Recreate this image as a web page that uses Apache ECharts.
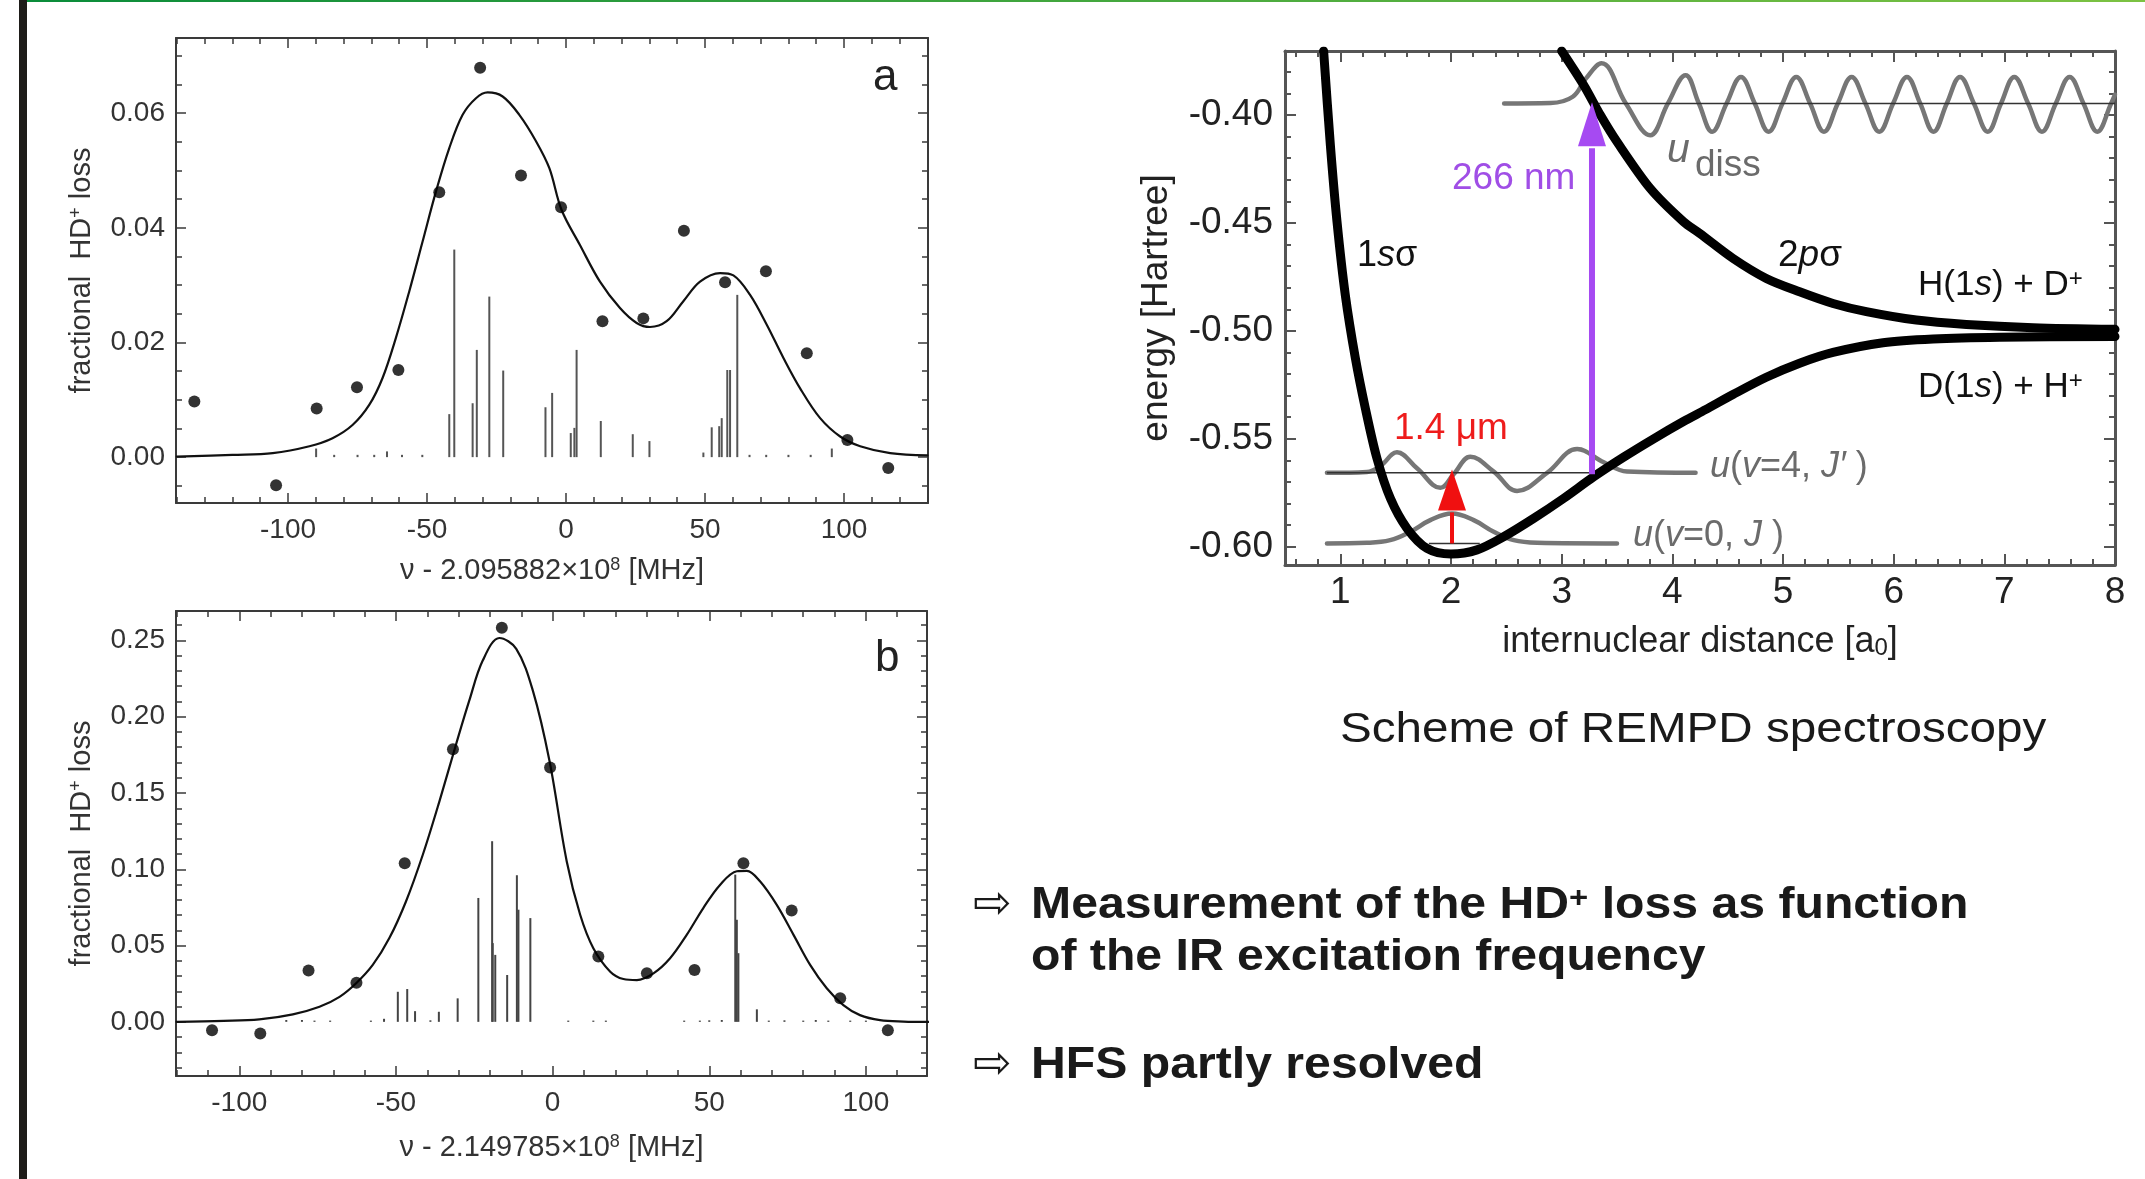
<!DOCTYPE html>
<html><head><meta charset="utf-8">
<script src="https://cdn.jsdelivr.net/npm/echarts@6/dist/echarts.min.js"></script>
<style>html,body{margin:0;padding:0;background:#fff;overflow:hidden}#c{width:2145px;height:1179px}</style>
</head><body><div id="c"></div>
<script>
// ===== Panel a : HD+ loss vs frequency (v - 2.095882e8 MHz) =====
const aPointsX = [-133.7, -104.3, -89.7, -75.2, -60.3, -45.6, -30.9, -16.2, -1.8, 13.1, 27.8, 42.4, 57.2, 71.9, 86.6, 101.2, 115.9];
const aPointsY = [0.0097, -0.0049, 0.0085, 0.0122, 0.0152, 0.0462, 0.0679, 0.0491, 0.0436, 0.0237, 0.0242, 0.0395, 0.0305, 0.0324, 0.0181, 0.0030, -0.0019];
const aFitX = [-140, -120, -105.5, -92.3, -84.0, -76.8, -70.8, -66.0, -61.2, -56.4, -51.6, -46.8, -42.0, -37.2, -32.4, -28.2, -22.8, -16.8, -10.8, -6.0, -1.6, 5.0, 12.2, 19.4, 25.4, 30.2, 36.2, 42.2, 48.2, 55.4, 60.2, 66.2, 72.2, 78.2, 84.2, 91.4, 98.6, 105.8, 116.6, 130];
const aFitY = [0.0001, 0.0004, 0.0007, 0.0019, 0.0033, 0.0056, 0.0091, 0.0138, 0.0208, 0.0289, 0.0376, 0.0463, 0.0539, 0.0597, 0.0626, 0.0636, 0.0629, 0.0597, 0.0551, 0.0504, 0.0431, 0.0370, 0.0306, 0.0260, 0.0234, 0.0227, 0.0237, 0.0272, 0.0306, 0.0321, 0.0317, 0.0283, 0.0231, 0.0173, 0.0120, 0.0068, 0.0036, 0.0019, 0.0007, 0.0003];
const aStickX = [-89.9, -83.4, -75.0, -69.0, -64.4, -59.0, -51.7, -42.0, -40.2, -33.6, -32.1, -27.6, -22.6, -7.4, -5.0, 1.7, 3.0, 3.8, 12.5, 24.0, 30.0, 49.4, 52.4, 55.1, 56.0, 58.0, 59.0, 61.6, 66.0, 72.0, 80.0, 88.0, 95.6];
const aStickY = [0.0015, 0.0004, 0.0004, 0.0004, 0.0010, 0.0004, 0.0004, 0.0075, 0.0362, 0.0094, 0.0187, 0.0280, 0.0151, 0.0087, 0.0112, 0.0042, 0.0051, 0.0187, 0.0063, 0.0040, 0.0028, 0.0008, 0.0052, 0.0054, 0.0068, 0.0152, 0.0152, 0.0283, 0.0004, 0.0004, 0.0004, 0.0004, 0.0015];
const aXTicks = [-100, -50, 0, 50, 100];
const aYTicks = [0.00, 0.02, 0.04, 0.06];

// ===== Panel b : HD+ loss vs frequency (v - 2.149785e8 MHz) =====
const bPointsX = [-108.7, -93.3, -77.9, -62.6, -47.2, -31.8, -16.2, -0.8, 14.6, 30.1, 45.3, 60.9, 76.3, 91.8, 107.0];
const bPointsY = [-0.0055, -0.0076, 0.0336, 0.0257, 0.1039, 0.1787, 0.2583, 0.1667, 0.0428, 0.0318, 0.0340, 0.1039, 0.0730, 0.0154, -0.0055];
const bFitX = [-120, -105, -93.6, -82.9, -74.4, -68.0, -62.7, -57.4, -52.1, -46.8, -41.4, -36.1, -30.8, -26.6, -22.3, -17.0, -11.6, -6.3, -1.0, 4.5, 8.8, 13.0, 18.4, 22.6, 26.9, 32.2, 37.5, 42.8, 48.1, 53.5, 58.8, 62.0, 66.2, 71.5, 76.9, 82.2, 87.5, 92.8, 98.1, 104.5, 112, 120];
const bFitY = [0.0000, 0.0006, 0.0016, 0.0049, 0.0099, 0.0164, 0.0253, 0.0373, 0.0549, 0.0789, 0.1097, 0.1447, 0.1820, 0.2105, 0.2368, 0.2516, 0.2445, 0.2171, 0.1711, 0.1053, 0.0702, 0.0483, 0.0329, 0.0281, 0.0274, 0.0318, 0.0417, 0.0570, 0.0746, 0.0899, 0.0987, 0.0990, 0.0921, 0.0768, 0.0570, 0.0373, 0.0220, 0.0110, 0.0044, 0.0011, 0.0002, 0.0000];
const bStickX = [-85, -80, -76, -71, -58, -53.8, -49.4, -46.4, -43.9, -39, -36.3, -30.3, -23.7, -19.3, -19.1, -18.3, -14.5, -11.4, -10.9, -7.1, 5, 13, 17, 42, 47, 50, 54, 58.3, 58.8, 59.3, 65.2, 69, 74, 80, 84, 88, 95, 100];
const bStickY = [0.0012, 0.0012, 0.0008, 0.0008, 0.0008, 0.0020, 0.0197, 0.0215, 0.0070, 0.0010, 0.0066, 0.0154, 0.0812, 0.1184, 0.0516, 0.0439, 0.0307, 0.0961, 0.0735, 0.0680, 0.0008, 0.0008, 0.0008, 0.0008, 0.0008, 0.0010, 0.0012, 0.0965, 0.0669, 0.0450, 0.0082, 0.0008, 0.0010, 0.0008, 0.0012, 0.0008, 0.0008, 0.0008];
const bXTicks = [-100, -50, 0, 50, 100];
const bYTicks = [0.00, 0.05, 0.10, 0.15, 0.20, 0.25];

// ===== Potential curves: energy [Hartree] vs internuclear distance [a0] =====
const s1X = [0.849, 0.91, 0.97, 1.045, 1.136, 1.226, 1.331, 1.452, 1.602, 1.783, 2.0, 2.235, 2.476, 2.747, 3.018, 3.289, 3.56, 3.831, 4.1, 4.3, 4.548, 4.849, 5.15, 5.452, 5.904, 6.356, 6.958, 8.0];
const s1Y = [-0.3703, -0.4139, -0.4494, -0.4834, -0.5127, -0.5359, -0.5591, -0.5776, -0.5915, -0.6008, -0.6034, -0.6015, -0.5954, -0.5869, -0.5776, -0.5676, -0.5585, -0.5500, -0.5420, -0.5365, -0.5295, -0.5215, -0.5150, -0.5100, -0.5055, -0.5038, -0.5030, -0.5026];
const s2X = [3.0, 3.199, 3.35, 3.5, 3.8, 4.1, 4.247, 4.548, 4.849, 5.15, 5.452, 5.753, 6.205, 6.657, 7.26, 8.0];
const s2Y = [-0.3703, -0.3861, -0.4000, -0.4124, -0.4340, -0.4494, -0.4548, -0.4664, -0.4757, -0.4819, -0.4873, -0.4911, -0.4950, -0.4970, -0.4985, -0.4993];
const w0X = [0.879, 1.24, 1.45, 1.632, 1.813, 2.009, 2.205, 2.386, 2.567, 2.778, 3.50];
const w0Y = [-0.5985, -0.5982, -0.5970, -0.5931, -0.5877, -0.5846, -0.5877, -0.5931, -0.5970, -0.5982, -0.5985];
const w4X = [0.879, 1.24, 1.36, 1.512, 1.693, 1.904, 2.024, 2.175, 2.386, 2.597, 2.868, 3.14, 3.38, 3.59, 4.21];
const w4Y = [-0.5658, -0.5654, -0.5627, -0.5563, -0.5637, -0.5727, -0.5664, -0.5583, -0.5652, -0.5742, -0.5658, -0.5548, -0.5609, -0.5652, -0.5658];
const wdX = [2.48, 2.90, 3.10, 3.22, 3.36, 3.58, 3.80, 3.96, 4.12, 4.24, 4.36, 4.49, 4.62, 4.745, 4.87, 4.995, 5.12, 5.245, 5.37, 5.495, 5.62, 5.745, 5.87, 5.995, 6.12, 6.24, 6.36, 6.48, 6.60, 6.725, 6.85, 6.97, 7.09, 7.215, 7.34, 7.465, 7.59, 7.715, 7.84, 7.965, 8.0];
const wdY = [-0.3946, -0.3944, -0.3915, -0.3830, -0.3760, -0.3946, -0.4093, -0.3946, -0.3815, -0.3946, -0.4077, -0.3946, -0.3823, -0.3946, -0.4077, -0.3946, -0.3823, -0.3946, -0.4077, -0.3946, -0.3823, -0.3946, -0.4077, -0.3946, -0.3823, -0.3946, -0.4077, -0.3946, -0.3823, -0.3946, -0.4077, -0.3946, -0.3823, -0.3946, -0.4077, -0.3946, -0.3823, -0.3946, -0.4077, -0.3946, -0.3905];
const levelX0 = [1.80, 0.879, 3.31];
const levelX1 = [2.26, 3.29, 8.0];
const levelE = [-0.5985, -0.5658, -0.3946];
const arrowX = [2.009, 3.274];
const arrowFrom = [-0.5985, -0.5665];
const arrowTo = [-0.5642, -0.3941];
const pXTicks = [1, 2, 3, 4, 5, 6, 7, 8];
const pYTicks = [-0.60, -0.55, -0.50, -0.45, -0.40];

// ===== helpers =====
const FF = '"Liberation Sans", Arial, Helvetica, sans-serif';
const zip = (xs, ys) => xs.map((x, i) => [x, ys[i]]);
function minorTicks(min, max, step, majors) {
  const out = [];
  const s = Math.ceil(min / step - 1e-9), e = Math.floor(max / step + 1e-9);
  for (let k = s; k <= e; k++) {
    const v = +(k * step).toFixed(6);
    if (!majors.some(m => Math.abs(m - v) < 1e-9)) out.push(v);
  }
  return out;
}
function makeAxes(dim, gi, o) {
  const main = dim === 'x' ? 'bottom' : 'left';
  const mir = dim === 'x' ? 'top' : 'right';
  const base = { type: 'value', gridIndex: gi, min: o.min, max: o.max, splitLine: { show: false }, silent: true, axisPointer: { show: false } };
  const line = { show: true, onZero: false, lineStyle: { color: o.frame, width: o.frameW } };
  const noLine = { show: false, onZero: false };
  const tMaj = { show: true, inside: true, length: o.majLen, customValues: o.major, lineStyle: { color: o.frame, width: o.tickW } };
  const tMin = { show: true, inside: true, length: o.minLen, customValues: o.minor, lineStyle: { color: o.frame, width: o.tickW } };
  return [
    Object.assign({}, base, {
      position: main, axisLine: line, axisTick: tMaj,
      axisLabel: { show: true, customValues: o.major, formatter: o.fmt, fontSize: o.fs, fontFamily: FF, color: o.color, margin: o.margin },
      name: o.name, nameLocation: 'middle', nameGap: o.nameGap, nameRotate: dim === 'y' ? 90 : 0, nameTextStyle: o.nameStyle
    }),
    Object.assign({}, base, { position: main, axisLine: noLine, axisTick: tMin, axisLabel: { show: false } }),
    Object.assign({}, base, { position: mir, axisLine: line, axisTick: tMaj, axisLabel: { show: false } }),
    Object.assign({}, base, { position: mir, axisLine: noLine, axisTick: tMin, axisLabel: { show: false } })
  ];
}
const plotCol = '#333';
const richPlot = (fs) => ({
  t: { fontSize: fs, fontFamily: FF, color: plotCol },
  s: { fontSize: Math.round(fs * 0.62), fontFamily: FF, color: plotCol, verticalAlign: 'top' }
});
const fmt2 = v => v.toFixed(2);
const fmt0 = v => String(Math.round(v));

const aRange = { xmin: -140.3, xmax: 130.2, ymin: -0.0080, ymax: 0.0731 };
const bRange = { xmin: -120.2, xmax: 119.5, ymin: -0.0355, ymax: 0.2693 };
const pRange = { xmin: 0.5, xmax: 8.0, ymin: -0.6085, ymax: -0.3703 };

const plotFrame = { frame: '#3a3a3a', frameW: 2, tickW: 1.5, majLen: 10, minLen: 6 };
const potFrame = { frame: '#555', frameW: 3, tickW: 2, majLen: 11, minLen: 6 };

const xAxes = [
  ...makeAxes('x', 0, Object.assign({}, plotFrame, { min: aRange.xmin, max: aRange.xmax, major: aXTicks, minor: minorTicks(aRange.xmin, aRange.xmax, 10, aXTicks), fmt: fmt0, fs: 28, color: plotCol, margin: 13,
    name: '{t|ν - 2.095882×10}{s|8}{t| [MHz]}', nameGap: 53, nameStyle: { fontFamily: FF, fontSize: 29, color: plotCol, rich: richPlot(29) } })),
  ...makeAxes('x', 1, Object.assign({}, plotFrame, { min: bRange.xmin, max: bRange.xmax, major: bXTicks, minor: minorTicks(bRange.xmin, bRange.xmax, 10, bXTicks), fmt: fmt0, fs: 28, color: plotCol, margin: 13,
    name: '{t|ν - 2.149785×10}{s|8}{t| [MHz]}', nameGap: 57, nameStyle: { fontFamily: FF, fontSize: 29, color: plotCol, rich: richPlot(29) } })),
  ...makeAxes('x', 2, Object.assign({}, potFrame, { min: pRange.xmin, max: pRange.xmax, major: pXTicks, minor: minorTicks(pRange.xmin, pRange.xmax, 0.2, pXTicks), fmt: fmt0, fs: 37, color: '#222', margin: 9,
    name: '{t|internuclear distance [a}{b|0}{t|]}', nameGap: 59, nameStyle: { fontFamily: FF, fontSize: 36, color: '#222',
      rich: { t: { fontSize: 36, fontFamily: FF, color: '#222' }, b: { fontSize: 24, fontFamily: FF, color: '#222', verticalAlign: 'bottom' } } } }))
];
const yAxes = [
  ...makeAxes('y', 0, Object.assign({}, plotFrame, { min: aRange.ymin, max: aRange.ymax, major: aYTicks, minor: minorTicks(aRange.ymin, aRange.ymax, 0.005, aYTicks), fmt: fmt2, fs: 28, color: plotCol, margin: 11,
    name: '{t|fractional  HD}{s|+}{t| loss}', nameGap: 80, nameStyle: { fontFamily: FF, fontSize: 29, color: plotCol, rich: richPlot(29) } })),
  ...makeAxes('y', 1, Object.assign({}, plotFrame, { min: bRange.ymin, max: bRange.ymax, major: bYTicks, minor: minorTicks(bRange.ymin, bRange.ymax, 0.01, bYTicks), fmt: fmt2, fs: 28, color: plotCol, margin: 11,
    name: '{t|fractional  HD}{s|+}{t| loss}', nameGap: 80, nameStyle: { fontFamily: FF, fontSize: 29, color: plotCol, rich: richPlot(29) } })),
  ...makeAxes('y', 2, Object.assign({}, potFrame, { min: pRange.ymin, max: pRange.ymax, major: pYTicks, minor: minorTicks(pRange.ymin, pRange.ymax, 0.01, pYTicks), fmt: fmt2, fs: 37, color: '#222', margin: 12,
    name: 'energy [Hartree]', nameGap: 110, nameStyle: { fontFamily: FF, fontSize: 37, color: '#222' } }))
];

const grey = '#767676';
const arrowStyles = [
  { color: '#f01010', shaft: 4, headW: 28, headLen: 41 },
  { color: '#a64af2', shaft: 6, headW: 28, headLen: 44 }
];
const curve = (xi, data, color, width, z, smooth) => ({ type: 'line', xAxisIndex: xi, yAxisIndex: xi, data: data, smooth: smooth, showSymbol: false, lineStyle: { color: color, width: width, cap: 'round', join: 'round' }, z: z, silent: true });

const series = [
  // panel a
  { type: 'bar', xAxisIndex: 0, yAxisIndex: 0, data: zip(aStickX, aStickY), barWidth: 2, itemStyle: { color: '#555' }, z: 2, silent: true },
  curve(0, zip(aFitX, aFitY), '#111', 2.2, 3, 0.35),
  { type: 'scatter', xAxisIndex: 0, yAxisIndex: 0, data: zip(aPointsX, aPointsY), symbolSize: 12, itemStyle: { color: '#000' }, z: 4, silent: true },
  // panel b
  { type: 'bar', xAxisIndex: 4, yAxisIndex: 4, data: zip(bStickX, bStickY), barWidth: 2, itemStyle: { color: '#444' }, z: 2, silent: true },
  curve(4, zip(bFitX, bFitY), '#111', 2.2, 3, 0.35),
  { type: 'scatter', xAxisIndex: 4, yAxisIndex: 4, data: zip(bPointsX, bPointsY), symbolSize: 12, itemStyle: { color: '#000' }, z: 4, silent: true },
  // potential diagram: wavefunctions
  curve(8, zip(w0X, w0Y), grey, 4.5, 2, 0.4),
  curve(8, zip(w4X, w4Y), grey, 4.5, 2, 0.4),
  curve(8, zip(wdX, wdY), grey, 4.5, 2, 0.4)
];
levelE.forEach((e, i) => {
  series.push({ type: 'line', xAxisIndex: 8, yAxisIndex: 8, data: [[levelX0[i], e], [levelX1[i], e]], showSymbol: false, lineStyle: { color: '#333', width: 1.5 }, z: 3, silent: true });
});
series.push(
  curve(8, zip(s1X, s1Y), '#000', 9, 4, 0.3),
  curve(8, zip(s2X, s2Y), '#000', 9, 4, 0.3),
  { type: 'custom', xAxisIndex: 8, yAxisIndex: 8, coordinateSystem: 'cartesian2d', clip: false, z: 6, silent: true,
    data: arrowX.map((x, i) => [x, arrowFrom[i], arrowTo[i]]),
    encode: { x: 0, y: [1, 2] },
    renderItem: (params, api) => {
      const st = arrowStyles[params.dataIndex];
      const p0 = api.coord([api.value(0), api.value(1)]);
      const p1 = api.coord([api.value(0), api.value(2)]);
      const by = p1[1] + st.headLen;
      return { type: 'group', children: [
        { type: 'line', shape: { x1: p0[0], y1: p0[1], x2: p0[0], y2: by + 2 }, style: { stroke: st.color, lineWidth: st.shaft } },
        { type: 'polygon', shape: { points: [[p1[0], p1[1]], [p1[0] + st.headW / 2, by], [p1[0] - st.headW / 2, by]] }, style: { fill: st.color } }
      ] };
    } }
);

// ===== annotation texts =====
function tok(fs, o) { return Object.assign({ fontSize: fs, fontFamily: FF, fill: o && o.fill || '#1a1a1a' }, o || {}); }
function label(x, y, text, rich, extra) {
  return Object.assign({ type: 'text', x: x, y: y, silent: true, z: 50,
    style: { text: text, rich: rich, align: 'left', verticalAlign: 'middle' } }, extra || {});
}
const blk = '#111';
const purple = '#a04ee6';
const red = '#ee1c1c';
const g = '#6b6b6b';
const txt = '#1a1a1a';
const graphics = [
  { type: 'rect', shape: { x: 19, y: 0, width: 8, height: 1179 }, style: { fill: '#1e1c19' }, silent: true },
  { type: 'rect', shape: { x: 27, y: 0, width: 2118, height: 2 }, silent: true,
    style: { fill: new echarts.graphic.LinearGradient(0, 0, 1, 0, [{ offset: 0, color: '#0a8c3a' }, { offset: 1, color: '#7cc242' }]) } },
  label(873, 78, '{n|a}', { n: tok(44, { fill: '#222' }) }),
  label(875, 659, '{n|b}', { n: tok(44, { fill: '#222' }) }),
  label(1357, 256, '{n|1}{i|s}{n|σ}', { n: tok(36, { fill: blk }), i: tok(36, { fill: blk, fontStyle: 'italic' }) }),
  label(1778, 256, '{n|2}{i|p}{n|σ}', { n: tok(37, { fill: blk }), i: tok(37, { fill: blk, fontStyle: 'italic' }) }),
  label(1918, 285, '{n|H(1}{i|s}{n|) + D}{s|+}', { n: tok(35, { fill: blk }), i: tok(35, { fill: blk, fontStyle: 'italic' }), s: tok(24, { fill: blk, verticalAlign: 'top' }) }),
  label(1918, 387, '{n|D(1}{i|s}{n|) + H}{s|+}', { n: tok(35, { fill: blk }), i: tok(35, { fill: blk, fontStyle: 'italic' }), s: tok(24, { fill: blk, verticalAlign: 'top' }) }),
  label(1710, 467, '{i|u}{n|(}{i|v}{n|=4, }{i|J′}{n| )}', { n: tok(36, { fill: g }), i: tok(36, { fill: g, fontStyle: 'italic' }) }),
  label(1633, 536, '{i|u}{n|(}{i|v}{n|=0, }{i|J}{n| )}', { n: tok(36, { fill: g }), i: tok(36, { fill: g, fontStyle: 'italic' }) }),
  label(1667, 151, '{i|u}', { i: tok(41, { fill: g, fontStyle: 'italic' }) }),
  label(1695, 166, '{n|diss}', { n: tok(37, { fill: g }) }),
  label(1452, 179, '{n|266 nm}', { n: tok(37, { fill: purple }) }),
  label(1394, 429, '{n|1.4 μm}', { n: tok(37, { fill: red }) }),
  label(1340, 730, '{n|Scheme of REMPD spectroscopy}', { n: tok(43, { fill: txt }) }, { scaleX: 1.107 }),
  label(973, 906, '{n|⇨}', { n: tok(46, { fill: txt, fontFamily: '"DejaVu Sans", sans-serif' }) }),
  label(973, 1066, '{n|⇨}', { n: tok(46, { fill: txt, fontFamily: '"DejaVu Sans", sans-serif' }) }),
  label(1031, 906, '{n|Measurement of the HD}{s|+}{n| loss as function}', { n: tok(44, { fill: txt, fontWeight: 'bold' }), s: tok(30, { fill: txt, fontWeight: 'bold', verticalAlign: 'top' }) }, { scaleX: 1.095 }),
  label(1031, 958, '{n|of the IR excitation frequency}', { n: tok(44, { fill: txt, fontWeight: 'bold' }) }, { scaleX: 1.095 }),
  label(1031, 1066, '{n|HFS partly resolved}', { n: tok(44, { fill: txt, fontWeight: 'bold' }) }, { scaleX: 1.095 })
];

const chart = echarts.init(document.getElementById('c'), null, { renderer: 'canvas', width: 2145, height: 1179 });
chart.setOption({
  backgroundColor: '#ffffff',
  animation: false,
  textStyle: { fontFamily: FF },
  grid: [
    { left: 176, top: 38, width: 752, height: 465, containLabel: false },
    { left: 176, top: 611, width: 751, height: 465, containLabel: false },
    { left: 1285, top: 51, width: 830, height: 514, containLabel: false }
  ],
  xAxis: xAxes,
  yAxis: yAxes,
  series: series,
  graphic: graphics
});
</script></body></html>
